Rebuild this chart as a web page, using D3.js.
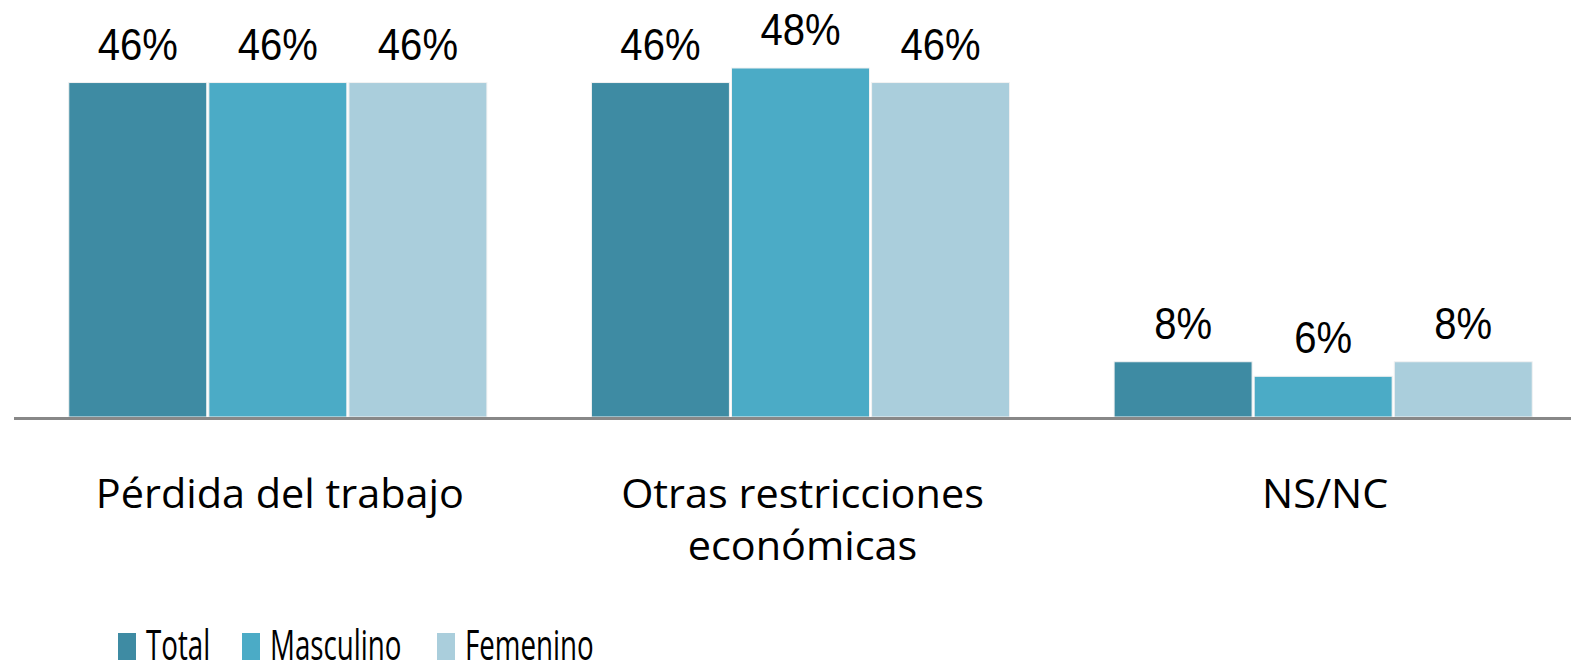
<!DOCTYPE html>
<html>
<head>
<meta charset="utf-8">
<script src="https://cdn.jsdelivr.net/npm/d3@7"></script>
<style>
  html, body { margin: 0; padding: 0; background: #fff; }
  svg { display: block; }
</style>
</head>
<body>
<div id="chart"></div>
<script>
// data
var categories = [["Pérdida del trabajo"], ["Otras restricciones", "económicas"], ["NS/NC"]];
var series = ["Total", "Masculino", "Femenino"];
var total = [46, 46, 7.6];
var masculino = [46, 48, 5.6];
var femenino = [46, 46, 7.6];
var colors = ["#3e8ba3", "#4babc6", "#aacedc"];

var width = 1571, height = 668;
var baseline = 417;

var svg = d3.select("#chart").append("svg")
    .attr("width", width)
    .attr("height", height);

var groups = categories.map(function (c, i) { return i; });
var x0 = d3.scaleBand()
    .domain(groups)
    .range([16.5, 1584.5])
    .paddingInner(0.2)
    .paddingOuter(0.1);
var x1 = d3.scaleBand()
    .domain(series)
    .range([0, x0.bandwidth()])
    .paddingInner(0.015);
var y = d3.scaleLinear()
    .domain([0, 48])
    .range([baseline, 68]);

var values = [total, masculino, femenino];
var rows = [];
groups.forEach(function (g) {
  series.forEach(function (s, j) {
    rows.push({g: g, s: s, j: j, v: values[j][g]});
  });
});

// bars
svg.append("g").selectAll("rect")
    .data(rows)
    .enter().append("rect")
    .attr("x", function (d) { return x0(d.g) + x1(d.s); })
    .attr("y", function (d) { return y(d.v); })
    .attr("width", x1.bandwidth())
    .attr("height", function (d) { return baseline - y(d.v); })
    .style("fill", function (d) { return colors[d.j]; })
    .style("stroke", "#f2f2f2")
    .style("stroke-width", 1);

// baseline
svg.append("line")
    .attr("x1", 14).attr("x2", width)
    .attr("y1", baseline + 1.5).attr("y2", baseline + 1.5)
    .style("stroke", "#888")
    .style("stroke-width", 3);

// value labels
svg.append("g").selectAll("text")
    .data(rows)
    .enter().append("text")
    .attr("transform", function (d) {
      return "translate(" + (x0(d.g) + x1(d.s) + x1.bandwidth() / 2) + "," + (y(d.v) - 23) + ")scale(0.91,1)";
    })
    .attr("text-anchor", "middle")
    .style("font-family", "'Liberation Sans', Arial, sans-serif")
    .style("font-size", "44px")
    .style("fill", "#000")
    .text(function (d) { return Math.round(d.v) + "%"; });

// category labels
var cat = svg.append("g").selectAll("text")
    .data(categories)
    .enter().append("text")
    .attr("transform", function (d, i) {
      return "translate(" + (x0(i) + x0.bandwidth() / 2 + 2) + ",508)scale(1.01,1)";
    })
    .attr("text-anchor", "middle")
    .style("font-family", "'Open Sans', sans-serif")
    .style("font-size", "41px")
    .style("fill", "#000");
cat.selectAll("tspan")
    .data(function (d) { return d; })
    .enter().append("tspan")
    .attr("x", 0)
    .attr("dy", function (d, i) { return i ? 52 : 0; })
    .text(function (d) { return d; });

// legend
var legendX = [118, 242, 437];
var legend = svg.append("g").selectAll("g")
    .data(series)
    .enter().append("g")
    .attr("transform", function (d, i) { return "translate(" + legendX[i] + ",0)"; });
legend.append("rect")
    .attr("x", 0).attr("y", 633)
    .attr("width", 18).attr("height", 27)
    .style("fill", function (d, i) { return colors[i]; });
legend.append("text")
    .attr("transform", "translate(28,660)scale(0.66,1)")
    .style("font-family", "'Open Sans', sans-serif")
    .style("font-size", "42px")
    .style("fill", "#000")
    .text(function (d) { return d; });
</script>
</body>
</html>
